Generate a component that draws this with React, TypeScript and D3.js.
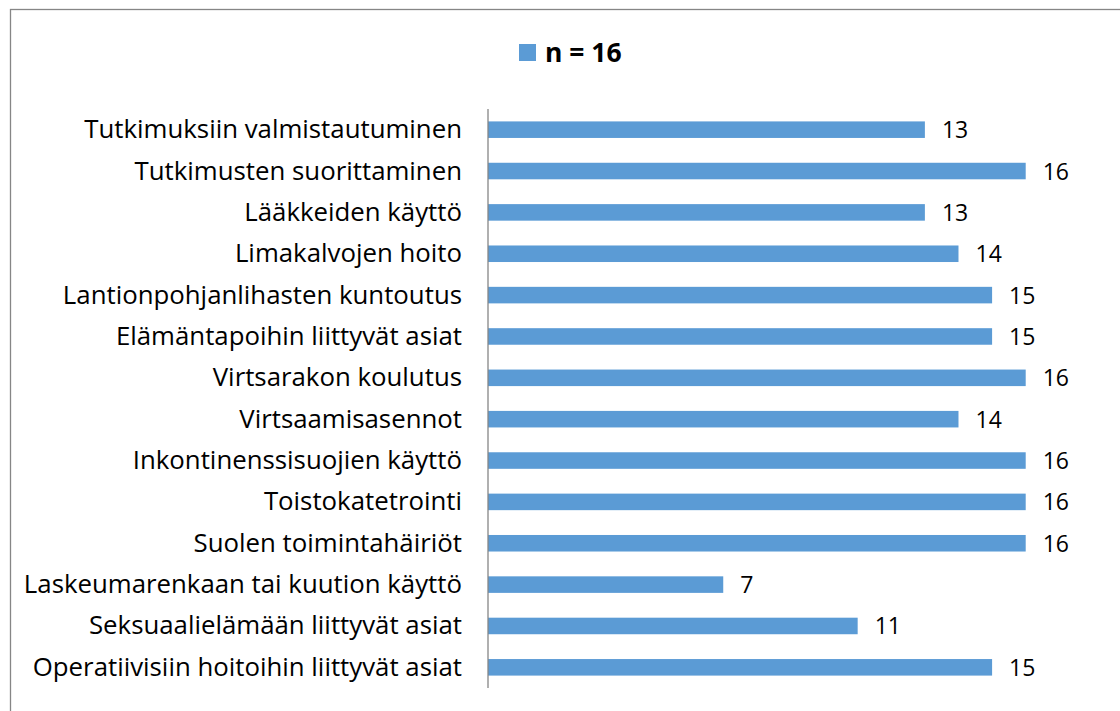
import React from "react";
import * as d3 from "d3";

const categories = [
  "Tutkimuksiin valmistautuminen",
  "Tutkimusten suorittaminen",
  "Lääkkeiden käyttö",
  "Limakalvojen hoito",
  "Lantionpohjanlihasten kuntoutus",
  "Elämäntapoihin liittyvät asiat",
  "Virtsarakon koulutus",
  "Virtsaamisasennot",
  "Inkontinenssisuojien käyttö",
  "Toistokatetrointi",
  "Suolen toimintahäiriöt",
  "Laskeumarenkaan tai kuution käyttö",
  "Seksuaalielämään liittyvät asiat",
  "Operatiivisiin hoitoihin liittyvät asiat",
];
const values = [13, 16, 13, 14, 15, 15, 16, 14, 16, 16, 16, 7, 11, 15];
const seriesName = "n = 16";

const W = 1120;
const H = 711;
const FONT = "'Open Sans', sans-serif";
const BLUE = "#5b9bd5";

export default function App() {
  const x0 = 488;
  const x = d3.scaleLinear().domain([0, 16]).range([x0, 1025.7]);
  const y = d3
    .scaleBand<string>()
    .domain(categories)
    .range([109, 688])
    .paddingInner(0.6)
    .paddingOuter(0.3);
  const bh = y.bandwidth();
  return (
    <svg
      width={W}
      height={H}
      style={{ position: "absolute", left: 0, top: 0, display: "block", background: "#fff" }}
    >
      <rect x={10.5} y={9.5} width={W + 20} height={H + 20} fill="#fff" stroke="#868686" strokeWidth={1.3} />
      {/* legend */}
      <rect x={519} y={44} width={17} height={17} fill={BLUE} />
      <text x={545} y={62} fontFamily={FONT} fontWeight="bold" fontSize={26.5} fill="#000">
        {seriesName}
      </text>
      {categories.map((c, i) => {
        const yy = y(c)!;
        const cy = yy + bh / 2;
        return (
          <g key={c}>
            <rect x={x(0)} y={yy} width={x(values[i]) - x(0)} height={bh} fill={BLUE} />
            <text
              x={462}
              y={cy + 8.5}
              textAnchor="end"
              fontFamily={FONT}
              fontSize={25.8}
              fill="#000"
            >
              {c}
            </text>
            <text x={x(values[i]) + 17} y={cy + 8.5} fontFamily={FONT} fontSize={23} fill="#000">
              {values[i]}
            </text>
          </g>
        );
      })}
      <line x1={x0} x2={x0} y1={109} y2={688} stroke="#868686" strokeWidth={1.3} />
    </svg>
  );
}
